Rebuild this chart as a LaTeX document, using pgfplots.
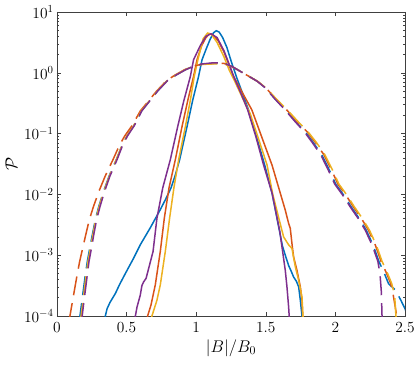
\documentclass[border=0pt]{standalone}
\usepackage{fix-cm}
\usepackage{pgfplots}
\pgfplotsset{compat=1.18}
\definecolor{mblue}{rgb}{0,0.447,0.741}
\definecolor{morange}{rgb}{0.85,0.325,0.098}
\definecolor{myellow}{rgb}{0.929,0.694,0.125}
\definecolor{mpurple}{rgb}{0.494,0.184,0.556}
\begin{document}
\begin{tikzpicture}
\begin{axis}[
    scale only axis, width=348bp, height=304bp,
    xmin=0, xmax=2.5, ymin=1e-4, ymax=10, ymode=log,
    xtick={0,0.5,1,1.5,2,2.5},
    ytick={1e-4,1e-3,1e-2,1e-1,1,10},
    tick align=inside, major tick length=4bp, minor tick length=2.2bp,
    axis line style={black!75, line width=0.6bp},
    every tick/.style={black!75, line width=0.5bp},
    tick label style={font=\fontsize{15.5}{18}\selectfont},
    label style={font=\fontsize{17}{20}\selectfont},
    xticklabel style={yshift=-3bp},
    xlabel={$|B|/B_0$}, ylabel={$\mathcal{P}$},
    every axis plot/.append style={line width=1.5bp},
]
% solid: narrow distributions
\addplot[mblue] coordinates {(0.345,8e-5) (0.347,1e-4) (0.36,1.32e-4) (0.38,1.66e-4) (0.419,2.34e-4) (0.45,3.31e-4) (0.491,5.0e-4) (0.55,8.9e-4) (0.598,1.48e-3) (0.67,2.82e-3) (0.742,5.62e-3) (0.78,8.3e-3) (0.82,1.29e-2) (0.85,2.09e-2) (0.881,3.72e-2) (0.934,0.130) (0.975,0.355) (1.017,0.871) (1.042,1.64) (1.073,2.51) (1.10,3.55) (1.125,4.57) (1.144,4.92) (1.165,4.68) (1.19,3.80) (1.22,2.63) (1.25,1.585) (1.288,0.87) (1.33,0.479) (1.376,0.245) (1.43,9.33e-2) (1.49,3.16e-2) (1.545,1.05e-2) (1.592,2.95e-3) (1.62,1.41e-3) (1.64,1.0e-3) (1.664,6.76e-4) (1.68,5.62e-4) (1.70,4.37e-4) (1.72,3.72e-4) (1.736,3.02e-4) (1.748,1.82e-4) (1.76,1e-4) (1.765,8e-5)};
\addplot[morange] coordinates {(0.646,8e-5) (0.651,1e-4) (0.675,1.51e-4) (0.706,3.24e-4) (0.742,1.15e-3) (0.771,4.07e-3) (0.805,1.29e-2) (0.85,3.72e-2) (0.898,0.130) (0.94,0.355) (0.981,0.871) (1.006,1.64) (1.04,2.82) (1.07,3.80) (1.096,4.39) (1.12,4.22) (1.16,3.31) (1.20,2.19) (1.235,1.38) (1.269,0.87) (1.33,0.479) (1.40,0.245) (1.47,8.9e-2) (1.545,3.02e-2) (1.604,1.05e-2) (1.64,5.5e-3) (1.664,3.34e-3) (1.676,2.75e-3) (1.69,1.41e-3) (1.70,9.3e-4) (1.724,5.62e-4) (1.748,3.02e-4) (1.76,1.82e-4) (1.765,1e-4) (1.768,8e-5)};
\addplot[myellow] coordinates {(0.677,8e-5) (0.682,1e-4) (0.718,1.82e-4) (0.742,3.24e-4) (0.778,1.15e-3) (0.809,4.07e-3) (0.84,1.29e-2) (0.874,3.72e-2) (0.922,0.130) (0.958,0.355) (0.986,0.871) (1.012,1.64) (1.05,3.63) (1.082,4.51) (1.11,4.27) (1.15,3.16) (1.20,1.82) (1.24,1.07) (1.269,0.794) (1.33,0.398) (1.389,0.209) (1.45,7.9e-2) (1.509,3.05e-2) (1.55,1.0e-2) (1.60,3.55e-3) (1.628,2.0e-3) (1.664,1.48e-3) (1.688,1.29e-3) (1.712,6.46e-4) (1.736,3.89e-4) (1.76,2.04e-4) (1.767,1e-4) (1.77,8e-5)};
\addplot[mpurple] coordinates {(0.558,8e-5) (0.563,1e-4) (0.575,1.41e-4) (0.598,2.19e-4) (0.61,3.16e-4) (0.622,3.63e-4) (0.64,4.17e-4) (0.665,6.92e-4) (0.69,1.15e-3) (0.718,4.07e-3) (0.76,1.29e-2) (0.814,3.72e-2) (0.867,0.130) (0.91,0.339) (0.958,0.871) (0.981,1.64) (1.03,2.82) (1.07,3.98) (1.106,4.39) (1.15,3.80) (1.20,2.29) (1.235,1.41) (1.269,0.87) (1.32,0.468) (1.37,0.245) (1.43,8.7e-2) (1.484,3.05e-2) (1.545,1.05e-2) (1.60,2.51e-3) (1.64,5.62e-4) (1.652,3.02e-4) (1.664,1.41e-4) (1.668,1e-4) (1.67,8e-5)};
% dashed: broad distributions
\addplot[mblue, dash pattern=on 19bp off 8bp] coordinates {(0.160,8e-5) (0.165,1e-4) (0.174,1.445e-4) (0.201,4.27e-4) (0.218,7.94e-4) (0.235,1.288e-3) (0.255,2.24e-3) (0.276,3.89e-3) (0.300,6.31e-3) (0.334,1.109e-2) (0.374,1.995e-2) (0.427,3.76e-2) (0.466,6.31e-2) (0.502,9.12e-2) (0.552,0.135) (0.608,0.2366) (0.722,0.501) (0.792,0.741) (0.852,0.912) (0.922,1.122) (0.972,1.259) (1.042,1.38) (1.122,1.43) (1.20,1.429) (1.26,1.259) (1.32,1.047) (1.38,0.871) (1.440,0.724) (1.499,0.562) (1.567,0.372) (1.646,0.240) (1.714,0.158) (1.783,0.107) (1.842,7.08e-2) (1.902,4.47e-2) (1.952,2.63e-2) (2.002,1.48e-2) (2.062,9.55e-3) (2.112,6.31e-3) (2.172,3.98e-3) (2.222,2.57e-3) (2.272,1.445e-3) (2.312,7.94e-4) (2.352,5.01e-4) (2.382,3.39e-4) (2.43,2.69e-4) (2.47,1.82e-4) (2.50,1.32e-4) (2.52,1e-4)};
\addplot[morange, dash pattern=on 19bp off 8bp] coordinates {(0.088,8e-5) (0.093,1e-4) (0.105,1.445e-4) (0.141,4.27e-4) (0.163,7.94e-4) (0.184,1.288e-3) (0.208,2.24e-3) (0.233,3.89e-3) (0.262,6.31e-3) (0.300,1.109e-2) (0.346,1.995e-2) (0.403,3.76e-2) (0.447,6.31e-2) (0.486,9.12e-2) (0.539,0.135) (0.599,0.2366) (0.716,0.501) (0.786,0.741) (0.846,0.912) (0.916,1.122) (0.966,1.259) (1.036,1.38) (1.116,1.42) (1.20,1.429) (1.26,1.259) (1.32,1.047) (1.38,0.871) (1.440,0.724) (1.501,0.562) (1.573,0.372) (1.654,0.240) (1.726,0.158) (1.797,0.107) (1.858,7.08e-2) (1.918,4.47e-2) (1.968,2.63e-2) (2.018,1.48e-2) (2.078,9.55e-3) (2.128,6.31e-3) (2.188,3.98e-3) (2.238,2.57e-3) (2.288,1.445e-3) (2.328,7.94e-4) (2.368,5.01e-4) (2.398,3.39e-4) (2.415,2.24e-4) (2.43,1.41e-4) (2.44,1e-4) (2.445,8e-5)};
\addplot[myellow, dash pattern=on 19bp off 8bp] coordinates {(0.168,8e-5) (0.173,1e-4) (0.182,1.445e-4) (0.207,4.27e-4) (0.223,7.94e-4) (0.240,1.288e-3) (0.259,2.24e-3) (0.279,3.89e-3) (0.303,6.31e-3) (0.336,1.109e-2) (0.376,1.995e-2) (0.427,3.76e-2) (0.466,6.31e-2) (0.502,9.12e-2) (0.551,0.135) (0.606,0.2366) (0.720,0.501) (0.790,0.741) (0.850,0.912) (0.920,1.122) (0.970,1.259) (1.040,1.37) (1.120,1.40) (1.20,1.40) (1.26,1.25) (1.32,1.047) (1.38,0.871) (1.441,0.724) (1.502,0.562) (1.575,0.372) (1.658,0.240) (1.731,0.158) (1.803,0.107) (1.865,7.08e-2) (1.925,4.47e-2) (1.975,2.63e-2) (2.025,1.48e-2) (2.085,9.55e-3) (2.135,6.31e-3) (2.195,3.98e-3) (2.245,2.57e-3) (2.295,1.445e-3) (2.335,7.94e-4) (2.375,5.01e-4) (2.405,3.39e-4) (2.425,2.24e-4) (2.435,1e-4) (2.44,8e-5)};
\addplot[mpurple, dash pattern=on 19bp off 8bp] coordinates {(0.177,8e-5) (0.181,1e-4) (0.189,1.445e-4) (0.215,4.27e-4) (0.230,7.94e-4) (0.247,1.288e-3) (0.265,2.24e-3) (0.285,3.89e-3) (0.309,6.31e-3) (0.341,1.109e-2) (0.380,1.995e-2) (0.432,3.76e-2) (0.470,6.31e-2) (0.506,9.12e-2) (0.555,0.135) (0.609,0.2366) (0.723,0.501) (0.793,0.741) (0.853,0.912) (0.923,1.122) (0.973,1.259) (1.043,1.40) (1.123,1.46) (1.20,1.44) (1.26,1.259) (1.32,1.047) (1.38,0.871) (1.439,0.724) (1.498,0.562) (1.565,0.372) (1.642,0.240) (1.710,0.158) (1.777,0.107) (1.835,7.08e-2) (1.895,4.47e-2) (1.945,2.63e-2) (1.995,1.48e-2) (2.055,9.55e-3) (2.105,6.31e-3) (2.165,3.98e-3) (2.215,2.57e-3) (2.265,1.445e-3) (2.305,7.94e-4) (2.32,5.01e-4) (2.33,2.51e-4) (2.335,1e-4) (2.337,8e-5)};
\end{axis}
\pgfresetboundingbox
\path[use as bounding box] ([shift={(-57bp,-53bp)}]current axis.south west) rectangle ([shift={(15bp,12bp)}]current axis.north east);
\end{tikzpicture}
\end{document}
